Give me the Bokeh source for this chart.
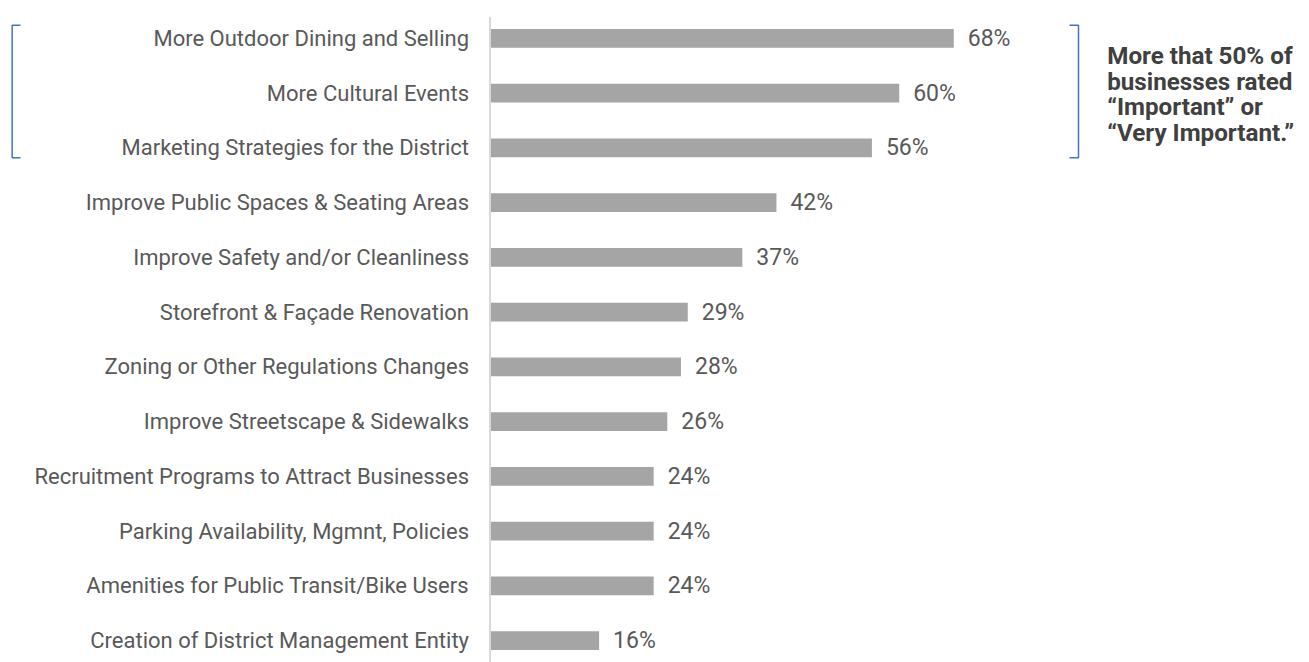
from bokeh.plotting import figure
from bokeh.models import ColumnDataSource, FactorRange, Range1d, Span
from bokeh.core.properties import value
from bokeh.embed import file_html
from bokeh.resources import INLINE

# ---- data (top to bottom) ----
categories = [
    "More Outdoor Dining and Selling",
    "More Cultural Events",
    "Marketing Strategies for the District",
    "Improve Public Spaces & Seating Areas",
    "Improve Safety and/or Cleanliness",
    "Storefront & Façade Renovation",
    "Zoning or Other Regulations Changes",
    "Improve Streetscape & Sidewalks",
    "Recruitment Programs to Attract Businesses",
    "Parking Availability, Mgmnt, Policies",
    "Amenities for Public Transit/Bike Users",
    "Creation of District Management Entity",
]
values = [68, 60, 56, 42, 37, 29, 28, 26, 24, 24, 24, 16]
value_labels = [f"{v}%" for v in values]
annotation_text = "More that 50% of\nbusinesses rated\n\u201cImportant\u201d or\n\u201cVery Important.\u201d"
bracket_first, bracket_last = categories[0], categories[2]

# ---- style ----
BAR_COLOR = "#A5A5A5"
TEXT_COLOR = "#595959"
NOTE_COLOR = "#404040"
AXIS_COLOR = "#D9D9D9"
BRACKET_COLOR = "#4472C4"
FONT = "Roboto"

src = ColumnDataSource(dict(cat=categories, val=values, lbl=value_labels))

y_range = FactorRange(factors=categories[::-1], range_padding=-0.1,
                      range_padding_units="absolute")

p = figure(width=1309, height=662, x_range=Range1d(-71.77, 120.16), y_range=y_range,
           output_backend="svg", toolbar_location=None,
           x_axis_location=None, y_axis_location=None,
           min_border_left=0, min_border_right=0, min_border_top=16, min_border_bottom=0,
           outline_line_color=None, background_fill_color="white", border_fill_color="white")
p.grid.visible = False

p.hbar(y="cat", left=0, right="val", height=0.34, source=src,
       fill_color=BAR_COLOR, line_color=None)

p.add_layout(Span(location=0, dimension="height", line_color=AXIS_COLOR, line_width=2))

# category labels (left of the axis)
p.text(x=0, y="cat", text="cat", source=src, x_offset=-21,
       text_align="right", text_baseline="middle",
       text_font=value(FONT), text_font_size="22px", text_color=TEXT_COLOR)

# value labels
p.text(x="val", y="cat", text="lbl", source=src, x_offset=14,
       text_align="left", text_baseline="middle",
       text_font=value(FONT), text_font_size="23px", text_color=TEXT_COLOR)


def syn(cat):
    return len(categories) - categories.index(cat) - 0.5


y_top = syn(bracket_first) + 0.24
y_bot = syn(bracket_last) - 0.18

# left bracket
lx, ltick = -70.06, -68.84
p.line(x=[ltick, lx, lx, ltick], y=[y_top, y_top, y_bot, y_bot],
       line_color=BRACKET_COLOR, line_width=1.5)
# right bracket
rx, rtick = 86.29, 84.97
p.line(x=[rtick, rx, rx, rtick], y=[y_top, y_top, y_bot, y_bot],
       line_color=BRACKET_COLOR, line_width=1.5)

# annotation
p.text(x=[90.5], y=[(y_top + y_bot) / 2], text=[annotation_text], y_offset=3,
       text_align="left", text_baseline="middle",
       text_font=value(FONT), text_font_style="bold", text_font_size="24.2px",
       text_line_height=0.92, text_color=NOTE_COLOR)

open("out.html", "w").write(file_html(p, INLINE))
